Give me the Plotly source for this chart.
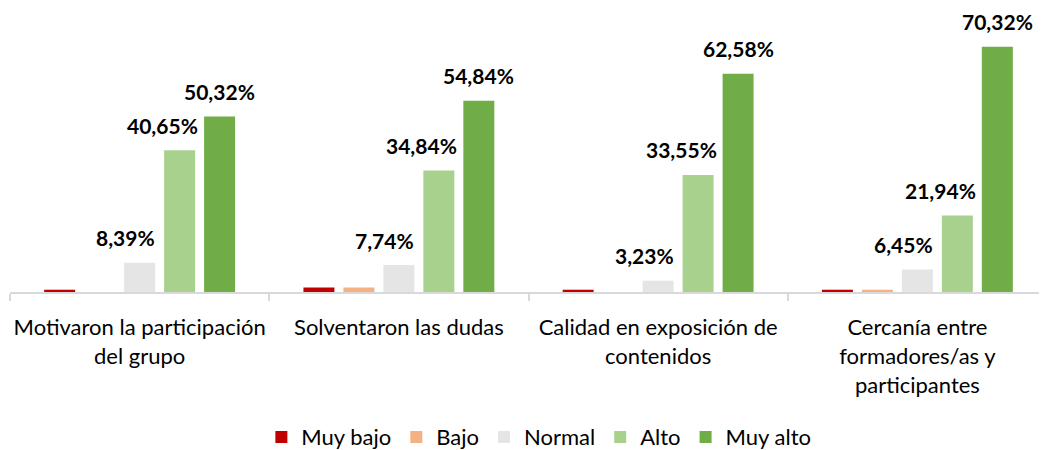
import plotly.graph_objects as go

categories = ["Motivaron la participación<br>del grupo",
              "Solventaron las dudas",
              "Calidad en exposición de<br>contenidos",
              "Cercanía entre<br>formadores/as y<br>participantes"]
series_names = ["Muy bajo", "Bajo", "Normal", "Alto", "Muy alto"]
muy_bajo = [0.65, 1.29, 0.65, 0.65]
bajo = [0.0, 1.29, 0.0, 0.65]
normal = [8.39, 7.74, 3.23, 6.45]
alto = [40.65, 34.84, 33.55, 21.94]
muy_alto = [50.32, 54.84, 62.58, 70.32]
values = [muy_bajo, bajo, normal, alto, muy_alto]
colors = ["#C00000", "#F4B183", "#E5E5E5", "#A9D18E", "#70AD47"]
labeled = [False, False, True, True, True]
label_xshift = [0, 0, -14, -17, 0]

BARGAP = 0.229
FONT = "Lato"

fig = go.Figure()
for name, vals, col in zip(series_names, values, colors):
    fig.add_trace(go.Bar(name=name, x=categories, y=vals,
                         marker=dict(color=col, line=dict(width=0))))

slot = (1 - BARGAP) / len(series_names)
for j, (vals, lab) in enumerate(zip(values, labeled)):
    if not lab:
        continue
    for i, v in enumerate(vals):
        xc = i - (1 - BARGAP) / 2 + (j + 0.5) * slot
        fig.add_annotation(x=xc, y=v, xref="x", yref="y",
                           text="<b>" + f"{v:.2f}".replace(".", ",") + "%</b>",
                           showarrow=False, yanchor="middle", yshift=25,
                           xshift=label_xshift[j],
                           font=dict(family=FONT, size=21, color="#000000"))

fig.update_layout(
    width=1039, height=442,
    margin=dict(l=2, r=0, t=5, b=158, autoexpand=False),
    paper_bgcolor="white", plot_bgcolor="white",
    barmode="group", bargap=BARGAP, bargroupgap=0.225,
    font=dict(family=FONT, size=22, color="#000000"),
    showlegend=True,
    legend=dict(orientation="h", x=0.51, xanchor="center", y=-0.52, yanchor="middle",
                font=dict(family=FONT, size=22, color="#000000"), itemwidth=30),
    xaxis=dict(type="category", showline=True, linecolor="#D9D9D9", linewidth=2,
               ticks="outside", tickson="boundaries", ticklen=7, tickcolor="#D9D9D9",
               tickwidth=2, showgrid=False, ticklabelstandoff=15, tickangle=0,
               automargin=False,
               tickfont=dict(family=FONT, size=22, color="#000000")),
    yaxis=dict(range=[0, 80], visible=False, showgrid=False, automargin=False),
)

fig.write_html("out.html")
